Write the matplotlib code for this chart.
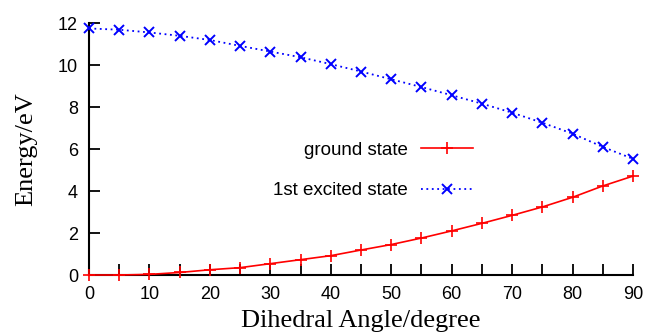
import matplotlib
matplotlib.use('Agg')
import matplotlib.pyplot as plt
from matplotlib.ticker import MultipleLocator

# Data
angle = [0, 5, 10, 15, 20, 25, 30, 35, 40, 45, 50, 55, 60, 65, 70, 75, 80, 85, 90]
ground = [0.0, 0.0, 0.03, 0.12, 0.25, 0.35, 0.54, 0.73, 0.92, 1.19, 1.45, 1.76, 2.10, 2.46, 2.84, 3.24, 3.70, 4.24, 4.71]
excited = [11.74, 11.68, 11.55, 11.39, 11.19, 10.91, 10.64, 10.37, 10.04, 9.69, 9.32, 8.95, 8.56, 8.16, 7.73, 7.25, 6.73, 6.10, 5.53]

sans = ['Liberation Sans', 'DejaVu Sans']
serif = ['Liberation Serif', 'DejaVu Serif']

fig = plt.figure(figsize=(6.46, 3.33), dpi=100)
ax = fig.add_axes([89/646, 1 - 275/333, (633 - 89)/646, (275 - 23)/333])

ax.plot(angle, ground, color='red', lw=1.2, marker='+', ms=9, mew=1.2,
        label='ground state', clip_on=False, zorder=3)
ax.plot(angle, excited, color='blue', lw=1.3, ls=(0, (1, 2)), marker='x', ms=7, mew=1.4,
        label='1st excited state', clip_on=False, zorder=3)

ax.set_xlim(0, 90)
ax.set_ylim(0, 12)
ax.xaxis.set_major_locator(MultipleLocator(10))
ax.xaxis.set_minor_locator(MultipleLocator(5))
ax.yaxis.set_major_locator(MultipleLocator(2))

for s in ['top', 'right']:
    ax.spines[s].set_visible(False)
for s in ['left', 'bottom']:
    ax.spines[s].set_linewidth(1.5)

ax.tick_params(which='both', direction='in', length=8, width=1.3, labelsize=13, pad=8)
for lab in ax.get_xticklabels() + ax.get_yticklabels():
    lab.set_family(sans)

ax.set_xlabel('Dihedral Angle/degree', family=serif, fontsize=19, labelpad=5)
ax.set_ylabel('Energy/eV', family=serif, fontsize=19, labelpad=15)

leg = ax.legend(loc='upper right', bbox_to_anchor=(473/646, 1 - 141.5/333),
                bbox_transform=fig.transFigure, frameon=False, markerfirst=False,
                handlelength=2.8, handletextpad=0.7, labelspacing=1.25,
                borderpad=0, borderaxespad=0, prop={'family': sans, 'size': 13.5})

fig.savefig('out.png', dpi=100)
plt.close(fig)
